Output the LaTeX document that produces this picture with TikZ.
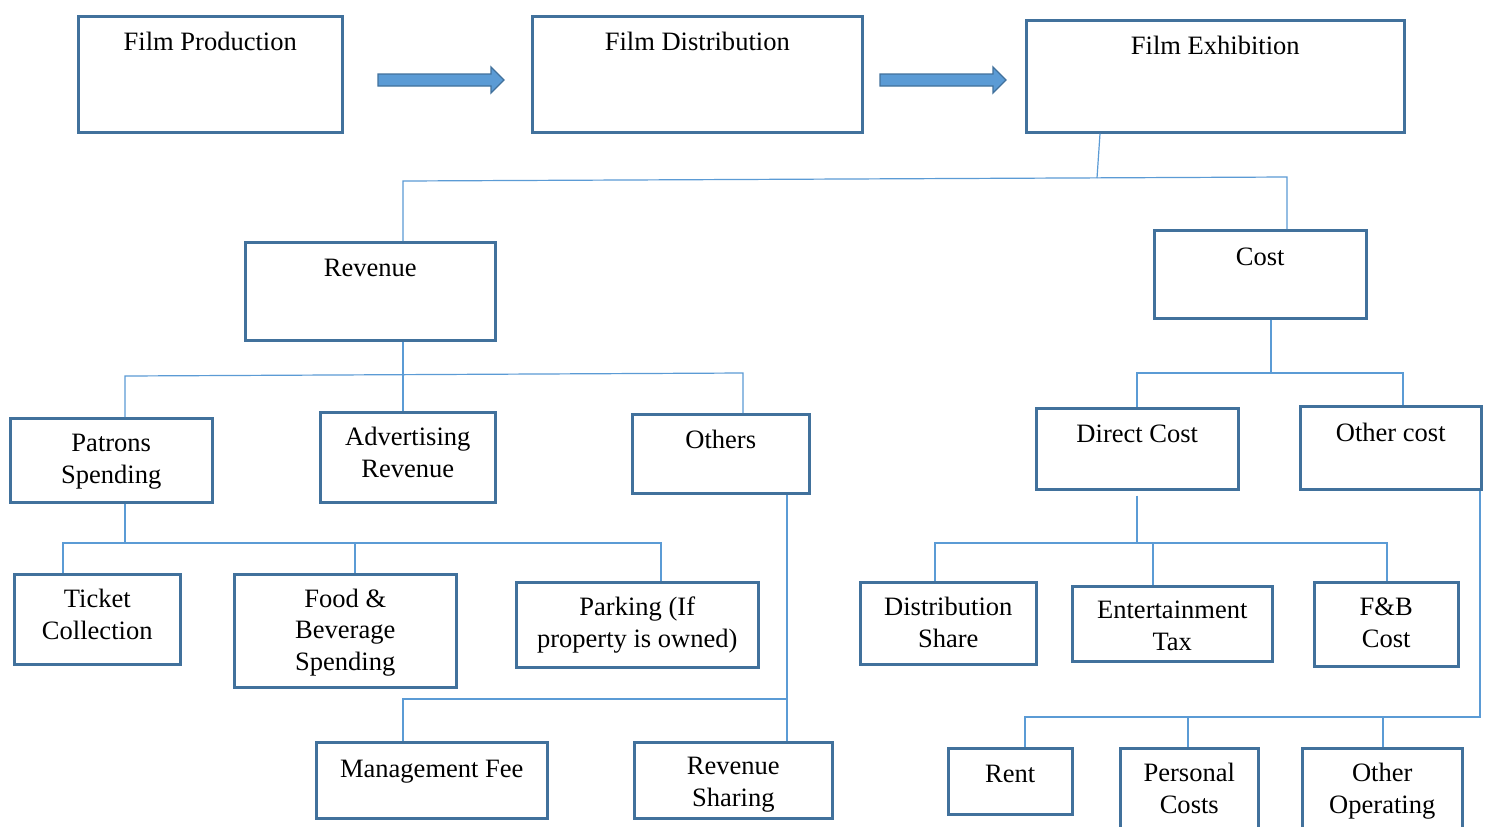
\documentclass[tikz,border=0pt]{standalone}
\usepackage{fontspec}
\setmainfont{Liberation Serif}
\definecolor{boxc}{RGB}{65,113,156}
\definecolor{linec}{RGB}{91,155,213}
\tikzset{
  box/.style={draw=boxc, line width=1.9pt, rectangle, inner sep=0pt, anchor=north west},
  txt/.style={font=\fontsize{19.9}{23.6}\selectfont, align=center, inner sep=0pt, anchor=base},
  conn/.style={draw=linec, line width=0.9pt},
  barrow/.style={fill=linec, draw=boxc, line width=1pt, line join=miter}
}
% name, x1, y1, x2, y2, baseline y of last line, text
\newcommand\mybox[7]{%
  \node[box, minimum width={(#4-#2)*0.75pt}, minimum height={(#5-#3)*0.75pt}] (#1) at (#2,#3) {};
  \node[txt] (#1-t) at (#1.north |- 0,#6) {#7};
}
\begin{document}
\begin{tikzpicture}[x=0.75pt, y=-0.75pt]
\clip (0,0) rectangle (1488,826);
\fill[white] (0,0) rectangle (1488,826);

\mybox{prod}{77}{15}{341}{131}{50}{Film Production}
\mybox{dist}{531}{15}{861}{131}{50}{Film Distribution}
\mybox{exh}{1025}{19}{1403}{131}{54}{Film Exhibition}

\mybox{rev}{244}{241}{494}{339}{276}{Revenue}
\mybox{cost}{1153}{229}{1365}{317}{265}{Cost}

\mybox{pat}{9}{417}{211}{501}{483}{Patrons\\Spending}
\mybox{adv}{319}{411}{494}{501}{477}{Advertising\\Revenue}
\mybox{oth}{631}{413}{808}{492}{448}{Others}

\mybox{tick}{13}{573}{179}{663}{639}{Ticket\\Collection}
\mybox{food}{233}{573}{455}{686}{670}{Food \&\\Beverage\\Spending}
\mybox{park}{515}{581}{757}{666}{647}{Parking (If\\property is owned)}

\mybox{mgmt}{315}{741}{546}{817}{777}{Management Fee}
\mybox{rs}{633}{741}{831}{817}{806}{Revenue\\Sharing}

\mybox{dir}{1035}{407}{1237}{488}{442}{Direct Cost}
\mybox{ocost}{1299}{405}{1480}{488}{441}{Other cost}

\mybox{distr}{859}{581}{1035}{663}{647}{Distribution\\Share}
\mybox{ent}{1071}{585}{1271}{660}{650}{Entertainment\\Tax}
\mybox{fb}{1313}{581}{1457}{665}{647}{F\&B\\Cost}

\mybox{rent}{947}{747}{1071}{813}{782}{Rent}
\mybox{pers}{1119}{747}{1257}{850}{813}{Personal\\Costs}
\mybox{oop}{1301}{747}{1461}{850}{813}{Other\\Operating}

% block arrows
\draw[barrow] (378,74) -- (491,74) -- (491,67) -- (504,80) -- (491,93) -- (491,86) -- (378,86) -- cycle;
\draw[barrow] (880,74) -- (993,74) -- (993,67) -- (1006,80) -- (993,93) -- (993,86) -- (880,86) -- cycle;

% junction coordinates
\coordinate (tb1) at (1097,178);
\coordinate (tbL) at (403,181);
\coordinate (tbR) at (1287,177);
\coordinate (rb) at (403,375);
\coordinate (pa) at (125,376);
\coordinate (ot) at (743,373);
\coordinate (pb) at (125,543);
\coordinate (t1) at (63,543);
\coordinate (fd) at (355,543);
\coordinate (t3) at (661,543);
\coordinate (ob) at (787,699);
\coordinate (mf) at (403,699);
\coordinate (cb) at (1271,373);
\coordinate (dc) at (1137,373);
\coordinate (oc) at (1403,373);
\coordinate (db) at (1137,543);
\coordinate (d1) at (935,543);
\coordinate (d2) at (1153,543);
\coordinate (d3) at (1387,543);
\coordinate (ob2) at (1480,717);
\coordinate (r1) at (1025,717);
\coordinate (p2) at (1188,717);
\coordinate (p3) at (1383,717);

% connectors
\draw[conn] ([xshift=2.25pt]tb1 |- exh.south) -- (tb1);
\draw[conn] (tbL |- rev.north) -- (tbL) -- (tbR) -- (tbR |- cost.north);

\draw[conn] (rb |- rev.south) -- (rb |- adv.north);
\draw[conn] (pa |- pat.north) -- (pa) -- (ot) -- (ot |- oth.north);

\draw[conn] (pb |- pat.south) -- (pb);
\draw[conn] (t1 |- tick.north) -- (t1) -- (t3) -- (t3 |- park.north);
\draw[conn] (fd) -- (fd |- food.north);

\draw[conn] (ob |- oth.south) -- (ob |- rs.north);
\draw[conn] (ob) -- (mf) -- (mf |- mgmt.north);

\draw[conn] (cb |- cost.south) -- (cb);
\draw[conn] (dc |- dir.north) -- (dc) -- (oc) -- (oc |- ocost.north);

\draw[conn] ([yshift=-3.75pt]db |- dir.south) -- (db);
\draw[conn] (d1 |- distr.north) -- (d1) -- (d3) -- (d3 |- fb.north);
\draw[conn] (d2) -- (d2 |- ent.north);

\draw[conn] (ob2 |- ocost.south) -- (ob2) -- (r1) -- (r1 |- rent.north);
\draw[conn] (p2) -- (p2 |- pers.north);
\draw[conn] (p3) -- (p3 |- oop.north);
\end{tikzpicture}
\end{document}
